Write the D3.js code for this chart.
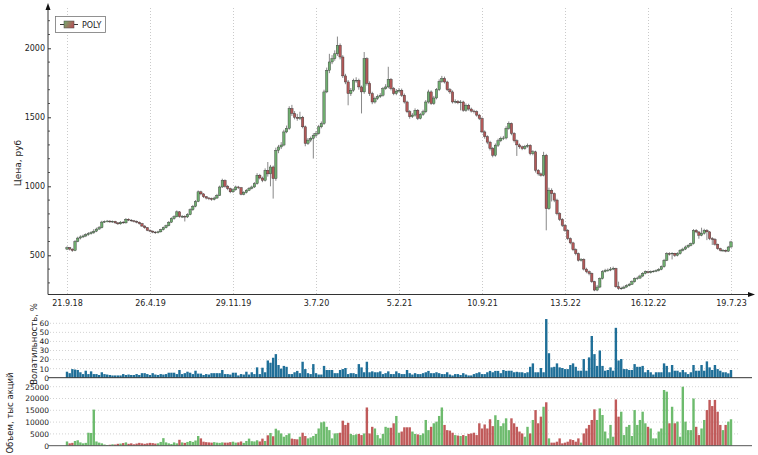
<!DOCTYPE html>
<html><head><meta charset="utf-8">
<script src="https://cdn.jsdelivr.net/npm/d3@7"></script>
<style>body{margin:0;background:#fff}svg{display:block;font-family:"DejaVu Sans",sans-serif}</style>
</head><body><svg id="c" width="758" height="455"></svg>
<script>
const ticker = "POLY";
const tickLabels = ["21.9.18","26.4.19","29.11.19","3.7.20","5.2.21","10.9.21","13.5.22","16.12.22","19.7.23"];
const tickIndex = [0,31,62,93,124,155,186,217,248];
const priceTicks = [500,1000,1500,2000];
const volatilityTicks = [0,10,20,30,40,50,60];
const volumeTicks = [0,5000,10000,15000,20000,25000];

const open = [545,555,545,535,600,625,633,640,650,657, 665,675,690,700,741,745,748,742,746,735, 728,740,735,761,755,750,746,740,730,712, 700,681,675,668,664,670,685,700,715,740, 766,780,815,780,782,778,795,830,855,890, 960,945,924,915,912,905,915,935,995,1043, 1000,983,960,975,995,990,942,955,971,985, 995,1019,1080,1060,1043,1116,1090,1140,1056,1261, 1285,1299,1394,1420,1564,1528,1500,1492,1500,1431, 1311,1335,1347,1370,1383,1431,1455,1684,1841,1901, 1925,1960,2022,1937,1800,1756,1672,1696,1768,1768, 1720,1684,1925,1746,1672,1611,1636,1650,1660,1708, 1720,1775,1708,1672,1690,1696,1660,1611,1540,1504, 1516,1551,1492,1520,1540,1611,1684,1600,1640,1700, 1760,1781,1756,1700,1684,1611,1615,1605,1611,1551, 1587,1560,1545,1540,1516,1492,1394,1360,1320,1274, 1225,1298,1330,1347,1350,1420,1455,1383,1330,1300, 1286,1274,1290,1297,1237,1250,1116,1090,1080,1225, 838,971,947,900,802,760,717,681,621,590, 540,512,464,470,400,381,369,309,248,270, 331,381,390,393,400,405,272,260,262,270, 280,290,309,331,335,350,369,381,375,381, 385,390,398,417,464,512,510,515,500,512, 536,545,560,572,584,681,669,645,660,681, 670,621,615,580,548,536,536,530,560];

const close = [555,545,535,600,625,633,640,650,657,665, 675,690,700,741,745,748,742,746,735,728, 740,735,761,755,750,746,740,730,712,700, 681,675,668,664,670,685,700,715,740,766, 780,815,780,782,778,795,830,855,890,960, 945,924,915,912,905,915,935,995,1043,1000, 983,960,975,995,990,942,955,971,985,995, 1019,1080,1060,1043,1116,1090,1140,1056,1261,1285, 1299,1394,1420,1564,1528,1500,1492,1500,1431,1311, 1335,1347,1370,1383,1431,1455,1684,1841,1901,1925, 1960,2022,1937,1800,1756,1672,1696,1768,1768,1720, 1684,1925,1746,1672,1611,1636,1650,1660,1708,1720, 1775,1708,1672,1690,1696,1660,1611,1540,1504,1516, 1551,1492,1520,1540,1611,1684,1600,1640,1700,1760, 1781,1756,1700,1684,1611,1615,1605,1611,1551,1587, 1560,1545,1540,1516,1492,1394,1360,1320,1274,1225, 1298,1330,1347,1350,1420,1455,1383,1330,1300,1286, 1274,1290,1297,1237,1250,1116,1090,1080,1225,838, 971,947,900,802,760,717,681,621,590,540, 512,464,470,400,381,369,309,248,270,331, 381,390,393,400,405,272,260,262,270,280, 290,309,331,335,350,369,381,375,381,385, 390,398,417,464,512,510,515,500,512,536, 545,560,572,584,681,669,645,660,681,670, 621,615,580,548,536,536,530,560,597];

const high = [565,560,550,610,635,645,650,660,668,675, 690,700,712,750,752,756,754,752,750,740, 748,748,770,768,762,756,752,745,735,718, 705,688,680,675,678,692,708,722,748,775, 790,825,820,792,790,805,840,865,900,970, 968,950,930,922,918,925,945,1005,1055,1050, 1010,990,985,1005,1003,995,965,980,995,1005, 1030,1095,1090,1070,1130,1176,1155,1150,1280,1300, 1320,1410,1440,1580,1590,1545,1525,1540,1510,1440, 1350,1360,1385,1400,1445,1470,1700,1860,1960,1950, 1985,2085,2035,1950,1815,1770,1712,1780,1790,1780, 1730,1973,1935,1760,1685,1650,1665,1675,1720,1740, 1866,1785,1720,1705,1712,1708,1672,1620,1552,1530, 1565,1560,1532,1555,1625,1700,1695,1655,1712,1775, 1800,1795,1765,1712,1695,1630,1625,1625,1620,1600, 1598,1570,1555,1550,1525,1500,1405,1370,1330,1285, 1310,1345,1360,1365,1435,1470,1462,1392,1340,1310, 1295,1300,1310,1305,1262,1258,1125,1100,1250,1235, 990,985,955,910,812,770,726,690,630,598, 550,520,480,478,410,390,375,315,285,340, 392,402,405,415,418,410,309,272,280,290, 300,318,340,345,360,378,390,388,390,392, 398,408,426,474,522,522,522,518,522,545, 555,570,580,592,690,690,675,700,692,690, 675,632,625,585,555,545,542,568,605];

const low = [538,535,525,530,595,615,625,632,642,650, 655,668,685,695,735,738,735,736,728,720, 722,728,730,748,742,738,732,722,705,692, 675,668,660,655,658,665,680,695,710,735, 758,775,772,770,745,770,790,822,848,885, 935,915,905,900,895,898,908,930,988,990, 972,950,952,968,980,935,935,948,965,978, 988,1012,1050,1030,1035,1070,1000,911,1040,1240, 1270,1290,1385,1410,1510,1485,1475,1480,1420,1290, 1300,1320,1201,1355,1375,1420,1445,1675,1820,1885, 1910,1945,1920,1785,1740,1587,1655,1685,1750,1700, 1528,1670,1730,1655,1595,1600,1625,1640,1650,1700, 1710,1695,1660,1660,1680,1648,1600,1530,1490,1495, 1505,1480,1485,1510,1530,1600,1590,1590,1630,1690, 1750,1745,1690,1670,1600,1600,1595,1550,1540,1540, 1548,1535,1528,1505,1480,1385,1345,1305,1260,1210, 1215,1285,1320,1335,1340,1410,1370,1318,1220,1272, 1262,1265,1280,1225,1225,1100,1078,1070,1072,681, 830,890,885,790,748,705,670,610,580,530, 500,455,455,390,370,355,300,240,240,262, 325,375,380,385,392,265,250,250,255,265, 275,285,302,322,328,342,362,368,368,375, 378,383,392,410,458,498,470,488,492,505, 528,538,552,565,578,660,620,638,650,610, 610,575,570,540,528,528,522,525,555];

const volatility = [6.6,5,9.5,9,8.5,6,4,7.7,4,7, 4,4,3,6,4,3.5,3,2.5,2.5,2.5, 2.5,4,3,3.5,3,3,4,3,5,5, 4,3,5,3.5,3,4,3.5,4,5.5,5.5, 5.5,4,8.5,4,5,6.6,5.5,4,7.7,4.5, 4.5,3,4,3.5,5,5,5,5,8.5,4, 4,3.5,5.5,5.5,2.5,4,3.5,6.6,3.5,6, 4,11.4,4,11,6,19,16.5,22,26,14, 10,13,12,4,4,6,7.5,5,17.6,9.5, 5,4,15,5,3.5,3.5,13,8.5,8.5,8.5, 5,5,8.5,9.5,10.7,4,5,5,4,15, 11.4,6,17.6,6,7,6,6,7,4,5, 7,4,4,7,5,4,4,8.5,5,3.5, 5,4,4,5,6,7.5,5,5,6,5, 4,4,6,3.5,2.5,4,4,3,5,3.5, 2.5,2.5,4,5,6,4,4,6,7.5,6, 7.5,7.5,5,8.5,7.5,7.7,7.7,6,6.5,6, 6,5,6,12,15.8,6,6,10.7,6,64.7, 27,11.4,12,15.8,11.4,10.7,9.5,9.5,14,15.8, 12,7.7,7.7,20.6,7.7,22.4,46,26,13,30, 13,7.7,8.5,11.4,7.7,55,19,20.6,9.5,9.5, 8.5,8.5,15,12,12,13,6,8.5,6,3.5, 6,6,6,15.8,13,6,14,7.7,7.7,6, 8.5,6,4,6,14,7.7,7.7,14,7.7,18, 11.4,8.5,14,9.5,7.7,6,6,4.8,8.5];

const volume = [1800,1000,1200,2000,2300,1400,1000,1200,5500,5400, 15300,1800,1300,1000,500,300,400,600,500,800, 900,1100,1400,800,1000,600,900,1200,1000,800, 1000,1200,1100,900,1000,1600,3200,1400,1000,700, 1400,1000,2500,1400,1200,1600,2000,1600,2200,4100, 3100,1700,1500,1400,1300,1500,1300,1200,1400,1300, 1300,1500,1700,1300,1400,1800,1200,2000,3000,1900, 1800,2300,1800,3000,2000,4400,5400,4000,7200,6500, 5200,3800,4500,5200,3000,2800,2700,3800,5500,4100, 3100,3500,4100,5000,7300,9900,10200,8000,6600,3100, 5200,5300,5500,10600,8800,9700,5000,4500,4800,5000, 4500,5200,16200,5200,8000,7300,4500,3100,5000,8000, 7600,7600,9500,12600,5500,6000,7800,7800,7800,6000, 5000,4800,4500,5200,10900,6600,8000,9500,10200,12600, 16200,8800,6600,6400,5500,4500,4300,4100,4500,4100, 5000,5200,5500,4500,9500,7300,9000,7300,11200,8300, 12900,10900,8300,9500,11600,6600,11600,9500,8000,6000, 5200,3800,8000,5200,10900,15100,9500,12300,16500,18400, 3100,1300,1300,1700,3100,1000,1300,1700,2700,2400, 1700,3100,1300,5200,7300,8800,10900,15400,10900,15800, 13000,6000,3100,8800,3800,19600,12300,14400,4500,8000, 8800,4100,15100,8800,10900,14400,9500,8000,7300,3100, 3100,6000,7300,23600,22900,9500,16500,9500,10200,3800, 25000,10200,6600,6600,20000,8000,4500,7300,10900,15100, 19400,16800,19400,14400,8800,6600,8800,10200,11200];

const svg = d3.select("#c");
const n = close.length;
const x = d3.scaleLinear().domain([0, n - 1]).range([67, 731]);
const yP = d3.scaleLinear().domain([500, 2000]).range([255.3, 48.3]);
const yV = d3.scaleLinear().domain([0, 60]).range([377.7, 323.3]);
const yQ = d3.scaleLinear().domain([0, 25000]).range([445.7, 386.7]);
const bw = 2.4;
const GREEN = "#6fae6f", RED = "#b25858";
const AX = "#333";
const idx = d3.range(n);
const fmt = d3.format("d");

const defs = svg.append("defs");
const gr = defs.append("linearGradient").attr("id","lg").attr("x1","0").attr("x2","1").attr("y1","0").attr("y2","0.4");
gr.append("stop").attr("offset","0%").attr("stop-color",GREEN);
gr.append("stop").attr("offset","100%").attr("stop-color",RED);

// vertical grid (price panel)
svg.append("g").selectAll("line").data(tickIndex).join("line")
  .attr("x1", d => x(d) + 0.5).attr("x2", d => x(d) + 0.5)
  .attr("y1", 8).attr("y2", 294)
  .attr("stroke", "#bdbdbd").attr("stroke-dasharray", "1,2").attr("stroke-width", 0.8);

// horizontal grids in lower panels
svg.append("g").selectAll("line").data(volatilityTicks.slice(1)).join("line")
  .attr("x1", 50).attr("x2", 740).attr("y1", d => yV(d)).attr("y2", d => yV(d))
  .attr("stroke", "#c8c8c8").attr("stroke-dasharray", "1,2").attr("stroke-width", 0.8);
svg.append("g").selectAll("line").data(volumeTicks.slice(1)).join("line")
  .attr("x1", 50).attr("x2", 740).attr("y1", d => yQ(d)).attr("y2", d => yQ(d))
  .attr("stroke", "#c8c8c8").attr("stroke-dasharray", "1,2").attr("stroke-width", 0.8);

// candles
const cg = svg.append("g");
cg.selectAll("line").data(idx).join("line")
  .attr("x1", i => x(i)).attr("x2", i => x(i))
  .attr("y1", i => yP(high[i])).attr("y2", i => yP(low[i]))
  .attr("stroke", "#555").attr("stroke-width", 0.7);
cg.selectAll("rect").data(idx).join("rect")
  .attr("x", i => x(i) - bw / 2)
  .attr("width", bw)
  .attr("y", i => yP(Math.max(open[i], close[i])))
  .attr("height", i => Math.max(0.7, Math.abs(yP(open[i]) - yP(close[i]))))
  .attr("fill", i => close[i] >= open[i] ? GREEN : RED)
  .attr("stroke", "#333").attr("stroke-width", 0.4);

// volatility bars
svg.append("g").selectAll("rect").data(idx).join("rect")
  .attr("x", i => x(i) - 1.2).attr("width", 2.4)
  .attr("y", i => yV(volatility[i])).attr("height", i => yV(0) - yV(volatility[i]))
  .attr("fill", "#1f6f98");

// volume bars
svg.append("g").selectAll("rect").data(idx).join("rect")
  .attr("x", i => x(i) - 1.2).attr("width", 2.4)
  .attr("y", i => yQ(volume[i])).attr("height", i => yQ(0) - yQ(volume[i]))
  .attr("fill", i => close[i] >= open[i] ? "#6dbb6d" : "#c05a5a");

// price axes
const ya = svg.append("g").attr("transform", "translate(48,0)")
  .call(d3.axisLeft(yP).tickValues(priceTicks).tickFormat(fmt).tickSizeInner(-3).tickSizeOuter(0).tickPadding(3));
ya.select(".domain").remove();
ya.selectAll(".tick line").attr("stroke", AX);
ya.selectAll("text").attr("font-size", 8).attr("fill", "#222").attr("font-family", "DejaVu Sans");
const minor = d3.range(300, 2300, 100).filter(v => priceTicks.indexOf(v) < 0);
svg.append("g").selectAll("line").data(minor).join("line")
  .attr("x1", 48).attr("x2", 50).attr("y1", d => yP(d)).attr("y2", d => yP(d))
  .attr("stroke", AX).attr("stroke-width", 0.8);

const xa = svg.append("g").attr("transform", "translate(0,294)")
  .call(d3.axisBottom(x).tickValues(tickIndex).tickFormat((d, i) => tickLabels[i]).tickSize(0).tickPadding(6));
xa.select(".domain").remove();
xa.selectAll("text").attr("font-size", 8).attr("fill", "#222").attr("font-family", "DejaVu Sans");

svg.append("line").attr("x1", 48).attr("x2", 48).attr("y1", 294.5).attr("y2", 8).attr("stroke", AX);
svg.append("path").attr("d", "M48,3 L45.5,10 L50.5,10 Z").attr("fill", "#111");
svg.append("line").attr("x1", 48).attr("x2", 750).attr("y1", 294.5).attr("y2", 294.5).attr("stroke", AX);
svg.append("path").attr("d", "M755,294.5 L748,292 L748,297 Z").attr("fill", "#111");

// lower panel axes
const va = svg.append("g").attr("transform", "translate(50,0)")
  .call(d3.axisLeft(yV).tickValues(volatilityTicks).tickFormat(fmt).tickSize(0).tickPadding(1));
va.select(".domain").remove();
va.selectAll("text").attr("font-size", 7.5).attr("fill", "#222").attr("font-family", "DejaVu Sans");
const qa = svg.append("g").attr("transform", "translate(50,0)")
  .call(d3.axisLeft(yQ).tickValues(volumeTicks).tickFormat(fmt).tickSize(0).tickPadding(1));
qa.select(".domain").remove();
qa.selectAll("text").attr("font-size", 7.5).attr("fill", "#222").attr("font-family", "DejaVu Sans");

svg.append("line").attr("x1", 48).attr("x2", 752).attr("y1", yV(0)).attr("y2", yV(0)).attr("stroke", AX);
svg.append("line").attr("x1", 48).attr("x2", 752).attr("y1", yQ(0)).attr("y2", yQ(0)).attr("stroke", "#555");

// titles
function vtitle(t, tx, ty, fs) {
  svg.append("text").attr("transform", `translate(${tx},${ty}) rotate(-90)`)
    .attr("text-anchor", "middle").attr("font-size", fs).attr("fill", "#222").text(t);
}
vtitle("Цена, руб", 21, 163, 9);
vtitle("Волатильность, %", 36.5, 344, 8.5);
vtitle("Объем, тыс акций", 13, 413, 8.5);

// legend
const lg = svg.append("g");
lg.append("rect").attr("x", 55.5).attr("y", 16.5).attr("width", 50).attr("height", 16)
  .attr("fill", "#fff").attr("stroke", "#777").attr("stroke-width", 0.8);
lg.append("line").attr("x1", 60).attr("x2", 78).attr("y1", 24.5).attr("y2", 24.5).attr("stroke", "#333");
lg.append("rect").attr("x", 64).attr("y", 21).attr("width", 10).attr("height", 7)
  .attr("fill", "url(#lg)").attr("stroke", "#444").attr("stroke-width", 0.5);
lg.append("text").attr("x", 82).attr("y", 27.5).attr("font-size", 8).attr("fill", "#222").text(ticker);
</script>
</body></html>
